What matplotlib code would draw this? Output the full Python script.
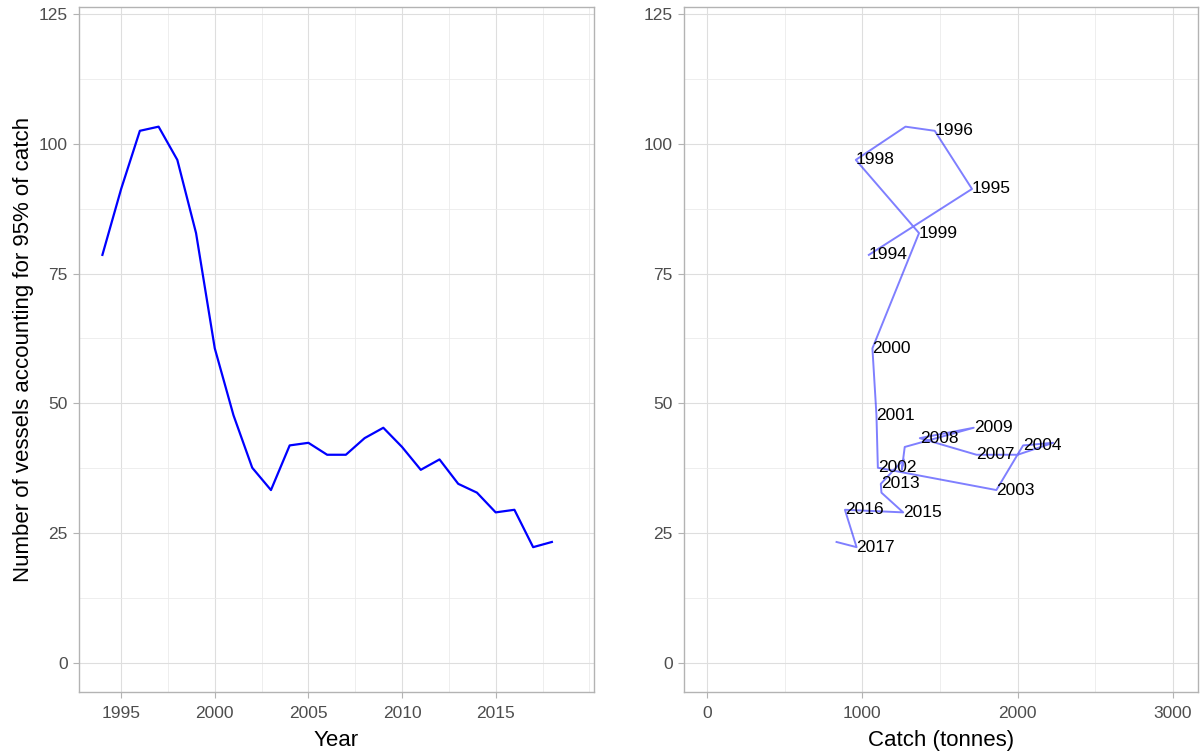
import matplotlib
matplotlib.use("Agg")
import matplotlib.pyplot as plt
import numpy as np
from matplotlib.ticker import MultipleLocator, FixedLocator

plt.rcParams['font.family'] = ['Liberation Sans', 'DejaVu Sans']

# data
years = np.arange(1994, 2019)
vessels = [78.6, 91.3, 102.5, 103.3, 96.9, 82.8, 60.6, 47.7, 37.6, 33.3,
           41.9, 42.4, 40.1, 40.1, 43.3, 45.3, 41.6, 37.2, 39.2, 34.5,
           32.8, 29.0, 29.5, 22.3, 23.3]
catch = [1042, 1706, 1466, 1278, 958, 1365, 1065, 1091, 1100, 1863,
         2035, 2228, 2000, 1735, 1370, 1717, 1273, 1254, 1267, 1119,
         1123, 1263, 888, 963, 834]
# labels that survive overlap checking in the original
label_years = [1994, 1995, 1996, 1998, 1999, 2000, 2001, 2002, 2003, 2004,
               2007, 2008, 2009, 2013, 2015, 2016, 2017]

y_lim = (-5.6, 126.35)

fig = plt.figure(figsize=(12.03, 7.51), dpi=100)
ax1 = fig.add_axes([79 / 1203, 59 / 751, 515 / 1203, 685 / 751])
ax2 = fig.add_axes([684 / 1203, 59 / 751, 514 / 1203, 685 / 751])


def light_theme(ax):
    ax.set_facecolor('white')
    for s in ax.spines.values():
        s.set_color('#B3B3B3')
        s.set_linewidth(1.0)
    ax.grid(which='major', color='#DEDEDE', linewidth=0.8)
    ax.grid(which='minor', color='#EBEBEB', linewidth=0.6)
    ax.set_axisbelow(True)
    ax.tick_params(which='major', length=4.3, width=0.8, color='#B3B3B3',
                   labelsize=12.5, labelcolor='#4D4D4D', pad=3.8)
    ax.tick_params(axis='x', which='major', pad=5.5)
    ax.tick_params(which='minor', length=0)
    ax.yaxis.set_major_locator(MultipleLocator(25))
    ax.yaxis.set_minor_locator(MultipleLocator(12.5))
    ax.set_ylim(*y_lim)


# left: vessels over time
light_theme(ax1)
ax1.plot(years, vessels, color='blue', linewidth=1.6)
ax1.set_xlim(1992.75, 2020.25)
ax1.xaxis.set_major_locator(FixedLocator([1995, 2000, 2005, 2010, 2015]))
ax1.xaxis.set_minor_locator(FixedLocator([1997.5, 2002.5, 2007.5, 2012.5, 2017.5, 2020]))
ax1.set_xlabel('Year', fontsize=16, labelpad=7)
ax1.set_ylabel('Number of vessels accounting for 95% of catch', fontsize=16, labelpad=3)

# right: vessels vs catch
light_theme(ax2)
ax2.plot(catch, vessels, color='blue', alpha=0.5, linewidth=1.4)
for yr, c, v in zip(years, catch, vessels):
    if yr in label_years:
        ax2.text(c, v, str(yr), fontsize=12.5, ha='left', va='center', color='black')
ax2.set_xlim(-148, 3161)
ax2.xaxis.set_major_locator(MultipleLocator(1000))
ax2.xaxis.set_minor_locator(FixedLocator([500, 1500, 2500]))
ax2.set_xlabel('Catch (tonnes)', fontsize=16, labelpad=7)

fig.savefig('out.png', dpi=100)
